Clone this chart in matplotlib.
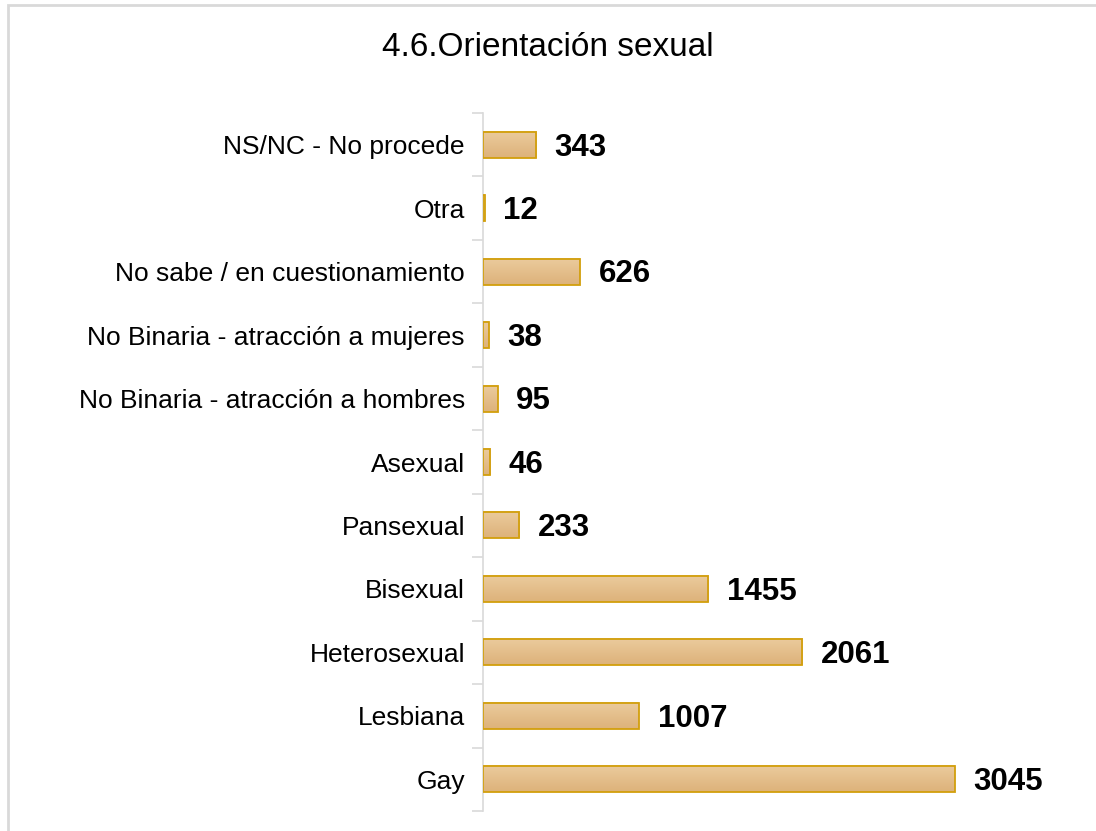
import numpy as np
import matplotlib
matplotlib.use("Agg")
import matplotlib.pyplot as plt
from matplotlib.colors import LinearSegmentedColormap
from matplotlib.patches import Rectangle

plt.rcParams['font.family'] = ['Liberation Sans', 'DejaVu Sans']

# ---- data (bottom to top) ----
categories = [
    "Gay",
    "Lesbiana",
    "Heterosexual",
    "Bisexual",
    "Pansexual",
    "Asexual",
    "No Binaria - atracción a hombres",
    "No Binaria - atracción a mujeres",
    "No sabe / en cuestionamiento",
    "Otra",
    "NS/NC - No procede",
]
values = [3045, 1007, 2061, 1455, 233, 46, 95, 38, 626, 12, 343]
title = "4.6.Orientación sexual"

fig = plt.figure(figsize=(10.96, 8.31), dpi=100)
ax = fig.add_axes([483 / 1096, 20 / 831, 542 / 1096, 698 / 831])

y = np.arange(len(categories))
h = 0.41

# gradient fill for bars
cmap = LinearSegmentedColormap.from_list("sand", ["#DDB27A", "#EBCB9D"])
grad = np.linspace(0, 1, 64).reshape(-1, 1)
for yi, v in zip(y, values):
    ax.imshow(grad, cmap=cmap, aspect="auto", origin="lower",
              extent=[0, v, yi - h / 2, yi + h / 2], zorder=2)
ax.barh(y, values, height=h, facecolor="none", edgecolor="#D29F0C",
        linewidth=1.3, zorder=3)

# value labels
for yi, v in zip(y, values):
    ax.text(v + 120, yi - 0.045, str(v), va="center", ha="left",
            fontsize=22.5, fontweight="bold", color="black")

ax.set_xlim(0, 3500)
ax.set_ylim(-0.5, len(categories) - 0.5)
ax.set_yticks(y)
ax.set_yticklabels(categories, fontsize=19)
ax.set_yticks(np.arange(-0.5, len(categories), 1), minor=True)
ax.tick_params(axis="y", which="major", length=0, pad=13)
ax.tick_params(axis="y", which="minor", length=8, width=1.2, color="#D9D9D9")
ax.set_xticks([])
for s in ["top", "right", "bottom"]:
    ax.spines[s].set_visible(False)
ax.spines["left"].set_color("#D9D9D9")
ax.spines["left"].set_linewidth(1.2)

fig.text(548 / 1096, 1 - 47 / 831, title, ha="center", va="center",
         fontsize=24)

# outer chart border
fig.patches.append(Rectangle((8 / 1096, -0.05), 1.1, 1 - 5 / 831 + 0.05,
                             transform=fig.transFigure, fill=False,
                             edgecolor="#D9D9D9", linewidth=2))

fig.savefig("out.png", dpi=100)
